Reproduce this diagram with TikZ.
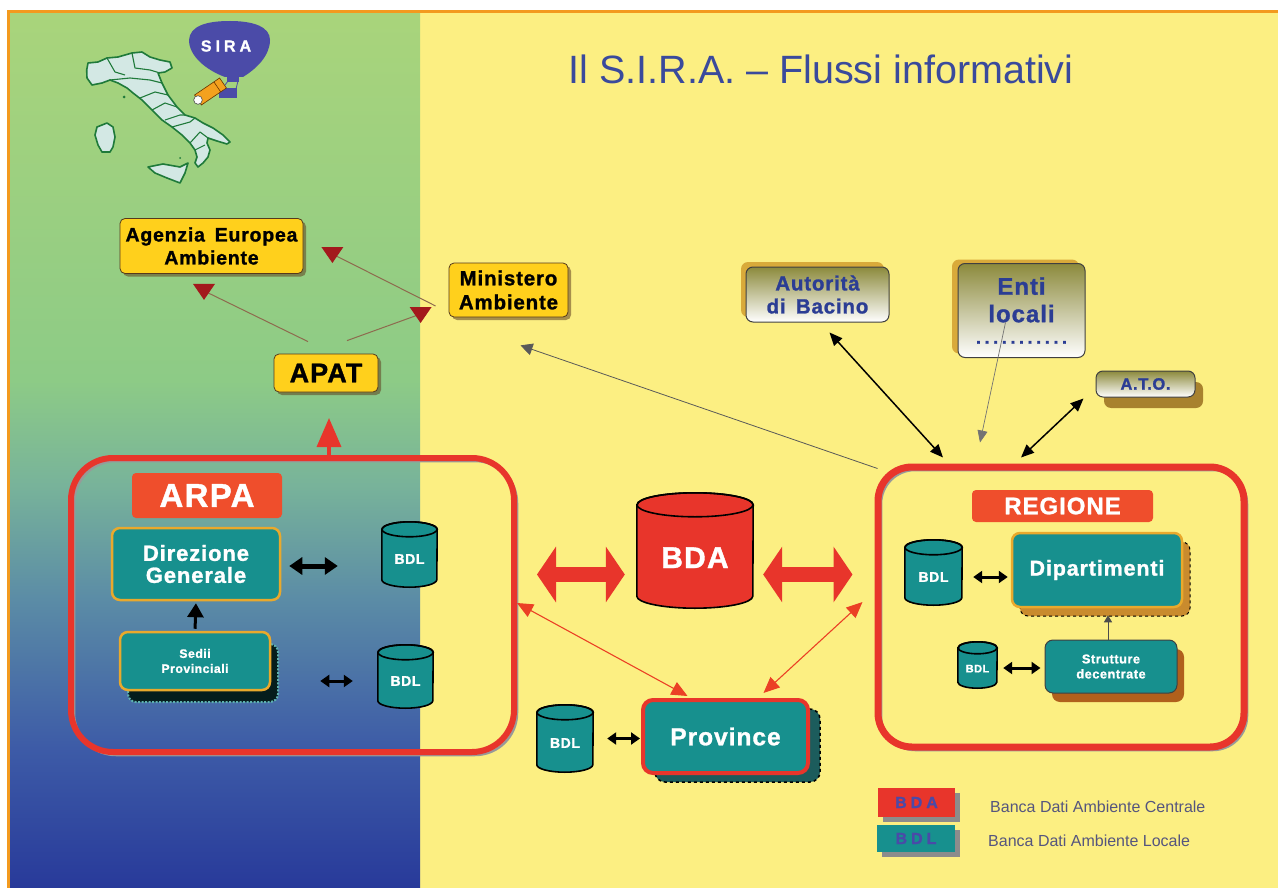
\documentclass[tikz,border=0pt]{standalone}
\usepackage{fontspec}
\setmainfont{Liberation Sans}
\newfontfamily\heavy[LetterSpace=4,BoldFeatures={FakeBold=1.2}]{Liberation Sans}
\usetikzlibrary{arrows.meta,shadows,calc}

\newcommand\fsz[2]{\fontsize{#1pt}{#2pt}\selectfont}

\definecolor{pyel}{HTML}{FCEF82}
\definecolor{frameor}{HTML}{F39A1E}
\definecolor{boxyel}{HTML}{FFD01C}
\definecolor{teal1}{HTML}{17908E}
\definecolor{tealdk}{HTML}{1C5C5C}
\definecolor{obord}{HTML}{E9A92C}
\definecolor{cred}{HTML}{E8352B}
\definecolor{lblred}{HTML}{EF4E2C}
\definecolor{navy}{HTML}{3A4A9C}
\definecolor{txtblue}{HTML}{2B3D94}
\definecolor{olive}{HTML}{8C8A3C}
\definecolor{goldsh}{HTML}{D9AA3A}
\definecolor{brownsh}{HTML}{A8822E}
\definecolor{rustsh}{HTML}{B0601C}
\definecolor{ambersh}{HTML}{C98B2E}
\definecolor{darkred}{HTML}{A3191C}
\definecolor{linebrown}{HTML}{8E6A4E}
\definecolor{legtxt}{HTML}{55557E}
\definecolor{legblue}{HTML}{4A4AA8}
\definecolor{balloon}{HTML}{4B4BA8}
\definecolor{mapfill}{HTML}{D3E8E4}
\definecolor{mapline}{HTML}{1F7A3A}
\definecolor{scopeor}{HTML}{F4A11E}
\definecolor{ptop}{HTML}{A9D47B}
\definecolor{pgrn}{HTML}{8DCB86}
\definecolor{pteal}{HTML}{78B39A}
\definecolor{pmid}{HTML}{5B8CA6}
\definecolor{pblue}{HTML}{3D5BA7}
\definecolor{pbot}{HTML}{283A9A}

% side panel: green at the top fading through teal to deep blue
\pgfdeclareverticalshading{leftpanel}{100bp}{color(0bp)=(pbot); color(25bp)=(pbot); color(33bp)=(pblue); color(41.5bp)=(pmid); color(48bp)=(pteal); color(54bp)=(pgrn); color(75bp)=(ptop); color(100bp)=(ptop)}

% database cylinder: name, centre, width, height, ellipse radius, fill, label font, label
\newcommand\dbcyl[8]{%
  \node[inner sep=0pt, minimum width=#3pt, minimum height=#4pt] (#1) at (#2) {};
  \filldraw[fill=#6, draw=black, line width=1.6pt]
    ([yshift=-#5pt]#1.north west) -- ([yshift=#5pt]#1.south west)
    arc[start angle=180, end angle=360, x radius={#3*0.5pt}, y radius=#5pt]
    -- ([yshift=-#5pt]#1.north east)
    arc[start angle=0, end angle=180, x radius={#3*0.5pt}, y radius=#5pt] -- cycle;
  \draw[line width=1.6pt] ([yshift=-#5pt]#1.north) ellipse[x radius={#3*0.5pt}, y radius=#5pt];
  \node[text=white, font=#7, inner sep=0pt] (#1t) at ([yshift={-0.6*#5pt}]#1.center) {#8};
}

\begin{document}
\begin{tikzpicture}[x=1pt,y=-1pt,
  ybox/.style={draw=black!55!brown, line width=0.8pt, fill=boxyel, rounded corners=5pt,
    inner sep=0pt, align=center, text=black,
    general shadow={fill=black!50!brown, opacity=0.55, shadow xshift=3pt, shadow yshift=-3pt}},
  gbox/.style={draw=black!75, line width=1pt, rounded corners=7pt, top color=olive,
    bottom color=white, text=txtblue, align=center, inner sep=0pt},
  tbox/.style={fill=teal1, rounded corners=8pt, text=white, align=center, inner sep=0pt},
  lbl/.style={fill=lblred, rounded corners=4pt, text=white, inner sep=0pt},
  frame/.style={draw=cred, rounded corners=#1, inner sep=0pt,
    general shadow={draw=black!40, line width=2.5pt, shadow xshift=3pt, shadow yshift=-3pt}},
  dblk/.style={line width=5pt, {Triangle[length=13pt,width=17pt]}-{Triangle[length=13pt,width=17pt]}},
  dblks/.style={line width=3pt, {Triangle[length=9pt,width=12pt]}-{Triangle[length=9pt,width=12pt]}},
  fatred/.style={draw=cred, line width=15pt, {Triangle[length=19pt,width=55pt]}-{Triangle[length=19pt,width=55pt]}},
  thinred/.style={draw=cred!85!orange, line width=1.1pt, {Triangle[length=16pt,width=14pt]}-{Triangle[length=16pt,width=14pt]}},
  thinblk/.style={draw=black, line width=1.5pt, {Triangle[length=13pt,width=11pt]}-{Triangle[length=13pt,width=11pt]}},
  upblk/.style={draw=black, line width=3pt, -{Triangle[length=14pt,width=16pt]}},
  upthin/.style={draw=black!70, line width=1pt, -{Triangle[length=7pt,width=8pt]}},
  redup/.style={draw=cred, line width=3.5pt, -{Triangle[length=29pt,width=24pt]}},
  brline/.style={draw=linebrown, line width=1pt},
  greyline/.style={draw=black!65, line width=0.8pt, -{Triangle[length=12pt,width=12pt]}},
  vhead/.pic={\fill[darkred] (-11,-7) -- (11,-7) -- (0,9) -- cycle;}
]
\useasboundingbox (0,0) rectangle (1278,888);

% backdrop: white page, green-to-blue side panel, yellow main area, orange frame
\fill[white] (0,0) rectangle (1278,888);
\fill[pyel] (420,12) rectangle (1278,888);
\shade[shading=leftpanel] (9,12) rectangle (420,888);
\draw[frameor, line width=3pt] (8.5,888) -- (8.5,11.5) -- (1278,11.5);

% map of Italy
\begin{scope}[line join=round]
\filldraw[fill=mapfill, draw=mapline, line width=1.6pt]
  (86.7,70) -- (88,63) -- (98,62) -- (107,58) -- (118,57) -- (132,53) -- (142,52)
  -- (150,57) -- (160,60) -- (170,62) -- (172,68) -- (165,72) -- (158,73)
  -- (162,83) -- (168,95) -- (177,107) -- (185,115) -- (195,118) -- (203,123)
  -- (213,128) -- (223,135) -- (230,142) -- (227,144) -- (217,141) -- (208,138)
  -- (207,143) -- (210,150) -- (208,157) -- (203,163) -- (198,167) -- (195,163)
  -- (197,157) -- (195,150) -- (190,143) -- (182,135) -- (172,127) -- (162,120)
  -- (152,110) -- (142,100) -- (133,93) -- (127,88) -- (118,83) -- (110,80)
  -- (102,83) -- (92,85) -- (87,78) -- cycle;
\filldraw[fill=mapfill, draw=mapline, line width=1.6pt]
  (97,127) -- (107,123) -- (113,127) -- (115,137) -- (113,147) -- (110,152)
  -- (102,152) -- (98,145) -- (95,135) -- cycle;
\filldraw[fill=mapfill, draw=mapline, line width=1.6pt]
  (148,167) -- (163,164) -- (180,167) -- (188,163) -- (185,173) -- (180,183)
  -- (167,178) -- (155,173) -- cycle;
\draw[mapline, line width=1.1pt]
  (107,58) -- (115,72) -- (125,75)
  (132,53) -- (135,68) -- (150,70) -- (160,73)
  (110,80) -- (130,78) -- (150,80) -- (162,83)
  (140,98) -- (155,92) -- (168,95)
  (152,110) -- (165,103) -- (177,107)
  (165,120) -- (180,115) -- (185,115)
  (172,127) -- (190,122) -- (195,118)
  (190,143) -- (200,132) -- (208,138)
  (195,150) -- (205,145);
\fill[mapline] (124,97) circle[radius=1.5pt] (180,158) circle[radius=1pt];
\end{scope}

% balloon with telescope
\fill[balloon] (225,77) .. controls (206,70) and (189,56) .. (189,40)
  .. controls (190,26) and (206,21) .. (230,21)
  .. controls (254,21) and (270,27) .. (270,40)
  .. controls (270,56) and (256,69) .. (243,77) -- cycle;
\fill[balloon] (227,75) rectangle (239,82);
\draw[balloon, line width=0.8pt] (228,81) -- (222,89) (238,81) -- (236,89);
\fill[balloon] (219,88) rectangle (237,98);
\filldraw[fill=scopeor, draw=black!60!orange, line width=0.6pt]
  (194.6,95) -- (201.4,105) -- (226.4,88) -- (219.6,78) -- cycle;
\draw[black!60!orange, line width=0.6pt] (214,82) -- (220.6,91.8);
\filldraw[fill=white, draw=black!70, line width=0.6pt] (198,100) circle[radius=4.3pt];
\node[text=white, font=\heavy\bfseries\fsz{16}{18}\addfontfeature{LetterSpace=25}] (sira) at (226,46) {SIRA};

% title
\node[font=\fsz{39.5}{44}, text=navy, anchor=base] (title) at (821,84) {Il S.I.R.A. – Flussi informativi};

% national and european bodies
\node[ybox, minimum width=183pt, minimum height=55pt, font=\heavy\bfseries\fsz{19.5}{23}] (aea) at (211.5,246) {Agenzia\enspace Europea\\Ambiente};
\node[ybox, minimum width=119pt, minimum height=54pt, font=\heavy\bfseries\fsz{20.5}{24}] (min) at (508.5,290) {Ministero\\Ambiente};
\node[ybox, minimum width=104pt, minimum height=38pt, font=\heavy\bfseries\fsz{27}{29}] (apat) at (326,373) {APAT};

% other bodies linked to the region
\node[gbox, minimum width=143pt, minimum height=55pt, font=\heavy\bfseries\fsz{20.5}{23},
  general shadow={fill=goldsh, shadow xshift=-5pt, shadow yshift=5pt}] (aut) at (817.5,294.5) {Autorità\\di\enspace Bacino};
\node[gbox, minimum width=127pt, minimum height=94pt, font=\heavy\bfseries\fsz{24}{27.5},
  general shadow={fill=goldsh, shadow xshift=-6pt, shadow yshift=4pt}] (enti) at (1021.5,310.5) {Enti\\locali\\[-6pt]{\fsz{18}{20}\addfontfeature{LetterSpace=20}...........}};
\node[gbox, minimum width=99pt, minimum height=26pt, font=\heavy\bfseries\fsz{16.5}{18},
  general shadow={fill=brownsh, shadow xshift=8pt, shadow yshift=-11pt}] (ato) at (1145.5,384) {A.T.O.};

% ARPA
\node[frame=42pt, line width=6pt, minimum width=443pt, minimum height=294pt] (arpa) at (292.5,605) {};
\node[lbl, minimum width=150pt, minimum height=45pt, font=\heavy\bfseries\fsz{33}{35}] (arpal) at (207,495.5) {ARPA};
\node[tbox, draw=obord, line width=2.5pt, minimum width=168pt, minimum height=72pt,
  font=\heavy\bfseries\fsz{22}{22}] (dg) at (196,564) {Direzione\\Generale};
\node[tbox, draw=obord, line width=2.5pt, minimum width=150pt, minimum height=58pt,
  font=\heavy\bfseries\fsz{12.3}{15},
  general shadow={fill=black!80!teal1, draw=teal1!70, dash pattern=on 2pt off 1.5pt, line width=2pt,
    shadow xshift=8pt, shadow yshift=-12pt}] (sedi) at (195,661) {Sedii\\Provinciali};
\dbcyl{bdl1}{409.5,554.5}{55}{65}{7.5}{teal1}{\heavy\bfseries\fsz{14}{15}}{BDL}
\dbcyl{bdl2}{405.5,676.5}{55}{63}{7.5}{teal1}{\heavy\bfseries\fsz{14}{15}}{BDL}

% central data bank
\dbcyl{bda}{695,550.5}{116}{115}{12}{cred}{\heavy\bfseries\fsz{30}{32}}{BDA}

% provinces
\node[tbox, draw=cred, line width=4pt, rounded corners=10pt, minimum width=165pt, minimum height=73pt,
  font=\heavy\bfseries\fsz{24.5}{26},
  general shadow={fill=tealdk, draw=black, dashed, line width=1.5pt, shadow xshift=12pt, shadow yshift=-9pt}] (prov) at (725.5,736.5) {Province};
\dbcyl{bdl3}{565,738.5}{56}{67}{7.5}{teal1}{\heavy\bfseries\fsz{14}{15}}{BDL}

% REGIONE
\node[frame=34pt, line width=7pt, minimum width=366pt, minimum height=280pt] (reg) at (1061,607) {};
\node[lbl, minimum width=181pt, minimum height=32pt, font=\heavy\bfseries\fsz{24}{26}] (regl) at (1062.5,506) {REGIONE};
\node[tbox, draw=obord, line width=2.5pt, minimum width=170pt, minimum height=74pt,
  font=\heavy\bfseries\fsz{21.5}{23},
  general shadow={fill=ambersh, draw=black, dashed, line width=1pt, shadow xshift=8pt, shadow yshift=-9pt}] (dip) at (1097,570) {Dipartimenti};
\dbcyl{bdl4}{933.5,572.5}{57}{65}{7.5}{teal1}{\heavy\bfseries\fsz{14}{15}}{BDL}
\node[tbox, draw=black!75, line width=1pt, minimum width=132pt, minimum height=53pt,
  font=\heavy\bfseries\fsz{12.8}{15},
  general shadow={fill=rustsh, shadow xshift=7pt, shadow yshift=-9pt}] (str) at (1111,666.5) {Strutture\\decentrate};
\dbcyl{bdl5}{977.5,665}{39}{46}{6}{teal1}{\heavy\bfseries\fsz{11}{12}}{BDL}

% flows inside ARPA and REGIONE
\draw[dblk, shorten <=8pt, shorten >=44pt] ([yshift=-2pt]dg.east) -- ([yshift=-2pt]dg.east -| bdl1.west);
\draw[dblks, shorten <=49pt, shorten >=25pt] ([yshift=-20pt]sedi.east) -- ([yshift=-20pt]sedi.east -| bdl2.west);
\draw[upblk, shorten <=2pt, shorten >=2pt] (sedi.north) -- (dg.south);
\draw[dblks, shorten <=14pt, shorten >=1pt] (bdl3.east) -- (bdl3.east -| prov.west);
\draw[dblks, shorten <=11pt, shorten >=3pt] ([yshift=-4.5pt]bdl4.east) -- ([yshift=-4.5pt]bdl4.east -| dip.west);
\draw[dblks, shorten <=6pt, shorten >=4pt] ([yshift=-3pt]bdl5.east) -- ([yshift=-3pt]bdl5.east -| str.west);
\draw[upthin, shorten >=7pt] ([xshift=-3pt]str.north) -- ([xshift=-3pt]str.north |- dip.south);

% exchanges with the central data bank
\coordinate (bdaL) at ([xshift=-12pt,yshift=-24pt]bda.west);
\coordinate (bdaR) at ([xshift=10pt,yshift=-24pt]bda.east);
\draw[fatred, shorten <=20pt] (arpa.east |- bdaL) -- (bdaL);
\draw[fatred, shorten >=22pt] (bdaR) -- (reg.west |- bdaR);
\draw[thinred] ([yshift=2pt]arpa.east) -- ([xshift=-38pt,yshift=2pt]prov.north);
\draw[thinred] ([xshift=-12pt,yshift=5pt]reg.west) -- ([xshift=38pt,yshift=5pt]prov.north);

% ARPA reports to APAT
\coordinate (apatTip) at (329,418);
\draw[redup] (arpa.north -| apatTip) -- (apatTip);

% national to european flows
\coordinate (hA) at ([xshift=-7.5pt,yshift=-17pt]aea.south);
\coordinate (hB) at ([xshift=29pt,yshift=-8pt]aea.east);
\coordinate (hC) at ([xshift=-28pt,yshift=-24pt]min.west);
\draw[brline] ([xshift=-18pt,yshift=12pt]apat.north) -- (hA);
\draw[brline] ([xshift=-13pt,yshift=-16pt]min.west) -- (hB);
\draw[brline] ([xshift=21pt,yshift=13pt]apat.north) -- (hC);
\pic at (hA) {vhead};
\pic at (hB) {vhead};
\pic at (hC) {vhead};

% region links to other bodies
\draw[greyline] ([xshift=3pt,yshift=-5pt]reg.north west) -- ([xshift=12pt,yshift=-28pt]min.south);
\draw[thinblk] ([xshift=12pt,yshift=-10pt]aut.south) -- ([xshift=-118pt,yshift=6pt]reg.north);
\draw[draw=black!55, line width=0.7pt, -{Triangle[length=12pt,width=10pt]}] ([xshift=-16pt,yshift=-12pt]enti.center) -- ([xshift=-81pt,yshift=21pt]reg.north);
\draw[thinblk] ([xshift=-12pt,yshift=-1pt]ato.south west) -- ([xshift=-40pt,yshift=6pt]reg.north);

% legend
\node[fill=cred, minimum width=77pt, minimum height=29pt, inner sep=0pt, text=legblue,
  font=\heavy\bfseries\fsz{16}{18}\addfontfeature{LetterSpace=25},
  general shadow={fill=black!45, shadow xshift=5pt, shadow yshift=-5pt}] (legA) at (916.5,802.5) {BDA};
\node[fill=teal1, minimum width=78pt, minimum height=27pt, inner sep=0pt, text=legblue,
  font=\heavy\bfseries\fsz{16}{18}\addfontfeature{LetterSpace=25},
  general shadow={fill=black!45, shadow xshift=5pt, shadow yshift=-5pt}] (legL) at (916,838.5) {BDL};
\node[anchor=west, inner sep=0pt, text=legtxt, font=\fsz{16}{18}] (legAt) at (990,807) {Banca Dati Ambiente Centrale};
\node[anchor=west, inner sep=0pt, text=legtxt, font=\fsz{16}{18}] (legLt) at (988,841) {Banca Dati Ambiente Locale};
\end{tikzpicture}
\end{document}
